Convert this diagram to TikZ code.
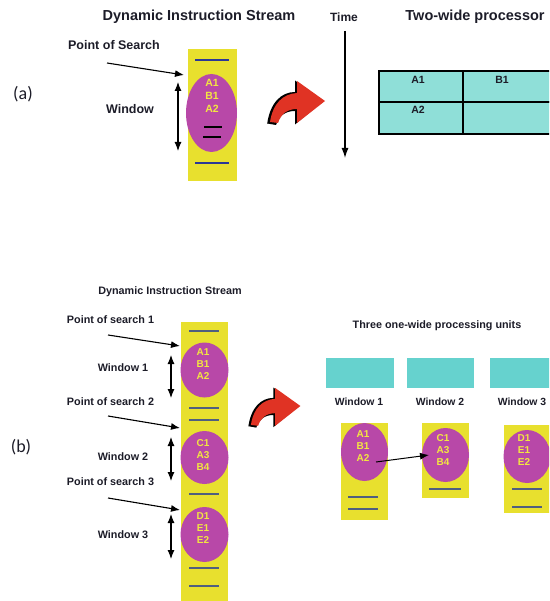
\documentclass[tikz,border=0pt]{standalone}
\usepackage{fontspec}
\setmainfont{Liberation Sans}
\newfontfamily\tagfont{Carlito}
\usetikzlibrary{arrows.meta,shapes.geometric}

\definecolor{streamyellow}{HTML}{E8E02E}
\definecolor{winmagenta}{HTML}{B848A8}
\definecolor{instryellow}{HTML}{F2E640}
\definecolor{unitcyan}{HTML}{66D2CE}
\definecolor{tablecyan}{HTML}{8FDFD8}
\definecolor{flowred}{HTML}{E03324}
\definecolor{labeltext}{HTML}{1C1C28}
\definecolor{markblue}{HTML}{2B3896}
\definecolor{markgray}{HTML}{4F5F7F}

\tikzset{
  strip/.style={rectangle, fill=streamyellow, inner sep=0pt},
  win/.style={ellipse, fill=winmagenta, inner sep=0pt},
  instr/.style={font=\bfseries\fontsize{10.5}{13}\selectfont, text=instryellow, align=center, inner sep=0pt},
  instrsm/.style={font=\bfseries\fontsize{10}{12}\selectfont, text=instryellow, align=center, inner sep=0pt},
  biglbl/.style={font=\bfseries\fontsize{14.5}{16}\selectfont, text=labeltext, inner sep=0pt},
  midlbl/.style={font=\bfseries\fontsize{12.5}{14}\selectfont, text=labeltext, inner sep=0pt},
  smalllbl/.style={font=\bfseries\fontsize{10.8}{12}\selectfont, text=labeltext, inner sep=0pt},
  tag/.style={font=\tagfont\fontsize{18}{20}\selectfont, text=labeltext, inner sep=0pt},
  ptr/.style={line width=1.1pt, -{Latex[length=9pt,width=7pt]}},
  span/.style={line width=1.1pt, {Latex[length=9pt,width=7pt]}-{Latex[length=9pt,width=7pt]}},
  timearrow/.style={line width=1.3pt, -{Latex[length=10pt,width=7pt]}},
  markb/.style={markblue, line width=1.6pt},
  markg/.style={markgray, line width=1.4pt},
  markk/.style={black, line width=1.6pt},
  cell/.style={rectangle, fill=tablecyan, draw=black, line width=1.5pt, inner sep=0pt},
  unit/.style={rectangle, fill=unitcyan, inner sep=0pt, minimum height=30pt},
  cellt/.style={font=\bfseries\fontsize{10.5}{12}\selectfont, text=labeltext, inner sep=0pt},
}

% curved "redo" arrow: tail at lower left, head pointing right
\newcommand{\flowarrow}[1]{%
  \begin{scope}[#1]
    \fill[black] (-1.8,42.5) .. controls (1.2,22) and (12,11) .. (26,11) -- (26,-0.5)
      -- (54,20) -- (26,43.5) -- (26,30) .. controls (16,30) and (10,35) .. (7,44) -- cycle;
    \fill[flowred] (1,41) .. controls (4,22) and (14,13) .. (28,12) -- (28,0)
      -- (56,20) -- (28,42) -- (28,28) .. controls (18,28) and (12,33) .. (9,42) -- cycle;
  \end{scope}}

\begin{document}
\begin{tikzpicture}[x=1pt, y=-1pt]
\useasboundingbox (0,0) rectangle (549,601);
\clip (0,0) rectangle (549,601);

% ---------------- (a) ----------------
\node[tag] (taga) at (23,94) {(a)};
\node[biglbl] (titlea) at (199,17) {Dynamic Instruction Stream};
\node[biglbl, font=\bfseries\fontsize{12}{14}\selectfont] (timelbl) at (344,17) {Time};
\node[biglbl] (procttl) at (475,17) {Two-wide processor};

\node[strip, minimum width=49pt, minimum height=132pt] (sa) at (212.5,115) {};
\draw[markb] (195,60) -- (229,60);
\draw[markb] (195,163) -- (229,163);
\node[win, minimum width=51pt, minimum height=78pt] (wa) at (211.5,113) {};
\node[instr] (ia) at (212,96) {A1\\B1\\A2};
\draw[markk] (204,127) -- (222,127);
\draw[markk] (203,137) -- (221,137);

\node[midlbl] (psa) at (114,45) {Point of Search};
\node[midlbl] (wla) at (130,109) {Window};
\coordinate (psa0) at (107,63);
\coordinate (psa1) at (184,75);
\draw[ptr] (psa0) -- (psa1);
\coordinate (wa0) at (178,82);
\coordinate (wa1) at (178,151);
\draw[span] (wa0) -- (wa1);

\flowarrow{shift={(269,81)}}

\coordinate (t0) at (345,31);
\coordinate (t1) at (345,158);
\draw[timearrow] (t0) -- (t1);

\node[cell, minimum width=84pt, minimum height=31pt] (c11) at (421,86.5) {};
\node[cell, minimum width=110pt, minimum height=31pt] (c12) at (518,86.5) {};
\node[cell, minimum width=84pt, minimum height=32pt] (c21) at (421,118) {};
\node[cell, minimum width=110pt, minimum height=32pt] (c22) at (518,118) {};
\node[cellt] (ta1) at (418,80) {A1};
\node[cellt] (tb1) at (502,80) {B1};
\node[cellt] (ta2) at (418,110) {A2};

% ---------------- (b) ----------------
\node[tag] (tagb) at (21,447) {(b)};
\node[smalllbl] (titleb) at (170,292) {Dynamic Instruction Stream};

\node[strip, minimum width=47pt, minimum height=290pt] (sb) at (204.5,467) {};
\foreach \yy in {331,408,420,494,568,586} \draw[markg] (189,\yy) -- (219,\yy);
\node[win, minimum width=48pt, minimum height=55pt] (wb1) at (204.5,370) {};
\node[win, minimum width=48pt, minimum height=53pt] (wb2) at (204.5,457.5) {};
\node[win, minimum width=48pt, minimum height=55pt] (wb3) at (204.5,534.5) {};
\node[instrsm] (ib1) at (203,364) {A1\\B1\\A2};
\node[instrsm] (ib2) at (203,455) {C1\\A3\\B4};
\node[instrsm] (ib3) at (203,528) {D1\\E1\\E2};

\node[smalllbl] (ps1) at (110.5,320) {Point of search 1};
\node[smalllbl] (ps2) at (110.5,402) {Point of search 2};
\node[smalllbl] (ps3) at (110.5,482) {Point of search 3};
\node[smalllbl] (wl1) at (123,368) {Window 1};
\node[smalllbl] (wl2) at (123,457) {Window 2};
\node[smalllbl] (wl3) at (123,535) {Window 3};

\coordinate (p1a) at (108,335); \coordinate (p1b) at (180,346);
\coordinate (p2a) at (108,416); \coordinate (p2b) at (180,428);
\coordinate (p3a) at (108,498); \coordinate (p3b) at (180,510);
\draw[ptr] (p1a) -- (p1b);
\draw[ptr] (p2a) -- (p2b);
\draw[ptr] (p3a) -- (p3b);
\coordinate (s1a) at (171,355); \coordinate (s1b) at (171,398);
\coordinate (s2a) at (171,437); \coordinate (s2b) at (171,481);
\coordinate (s3a) at (171,514); \coordinate (s3b) at (171,559);
\draw[span] (s1a) -- (s1b);
\draw[span] (s2a) -- (s2b);
\draw[span] (s3a) -- (s3b);

\flowarrow{shift={(250,388)}, scale=0.9}

\node[smalllbl] (unitsttl) at (437,326) {Three one-wide processing units};
\node[unit, minimum width=68pt] (u1) at (360,373) {};
\node[unit, minimum width=67pt] (u2) at (440.5,373) {};
\node[unit, minimum width=70pt] (u3) at (525,373) {};
\node[smalllbl, font=\bfseries\fontsize{10.4}{12}\selectfont] (ul1) at (359,402) {Window 1};
\node[smalllbl, font=\bfseries\fontsize{10.4}{12}\selectfont] (ul2) at (440,402) {Window 2};
\node[smalllbl, font=\bfseries\fontsize{10.4}{12}\selectfont] (ul3) at (522,402) {Window 3};

\node[strip, minimum width=47pt, minimum height=97pt] (r1) at (364.5,471.5) {};
\node[strip, minimum width=47pt, minimum height=75pt] (r2) at (445.5,460.5) {};
\node[strip, minimum width=47pt, minimum height=88pt] (r3) at (527.5,469) {};
\node[win, minimum width=47pt, minimum height=58pt] (rw1) at (364.5,452) {};
\node[win, minimum width=47pt, minimum height=54pt] (rw2) at (445.5,455) {};
\node[win, minimum width=47pt, minimum height=53pt] (rw3) at (527,456.5) {};
\node[instrsm] (ri1) at (363,446) {A1\\B1\\A2};
\node[instrsm] (ri2) at (443,450) {C1\\A3\\B4};
\node[instrsm] (ri3) at (524,450) {D1\\E1\\E2};
\draw[markg] (348,497) -- (378,497);
\draw[markg] (348,509) -- (378,509);
\draw[markg] (429,489) -- (461,489);
\draw[markg] (512,489) -- (542,489);
\draw[markg] (512,507) -- (542,507);

\coordinate (mv0) at (376,462);
\coordinate (mv1) at (429,455);
\draw[ptr, line width=1pt] (mv0) -- (mv1);
\end{tikzpicture}
\end{document}
